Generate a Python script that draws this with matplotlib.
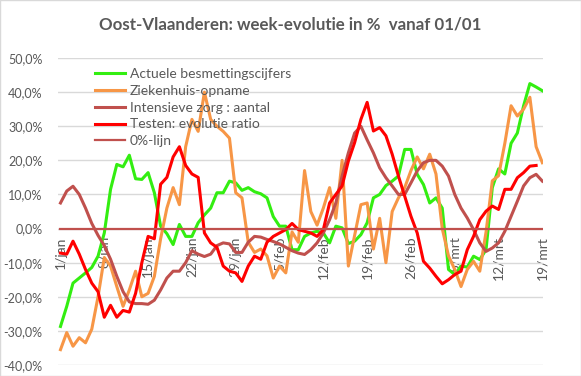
import numpy as np
import matplotlib
matplotlib.use("Agg")
import matplotlib.pyplot as plt
from matplotlib.patches import Rectangle

plt.rcParams['font.family'] = ['Lato', 'DejaVu Sans']

# dagen sinds 1/jan (1/jan .. 19/mrt)
dagen = np.arange(78)
tick_pos = np.arange(0, 78, 7)
tick_labels = ['1/jan', '8/jan', '15/jan', '22/jan', '29/jan', '5/feb',
               '12/feb', '19/feb', '26/feb', '5/mrt', '12/mrt', '19/mrt']

# week-evolutie in %
besmettingen = [-28.7, -22.8, -16, -14.5, -13, -11.4, -8.1, -1.3, 11.5, 18.8,
                18.1, 21.5, 14.6, 14.4, 16.4, 10.5, 0.7, -1.5, -4.7, 1.2,
                -2.3, -2.3, 1.7, 4, 6, 10.5, 10.5, 13.9, 13.4, 11.2,
                12, 10.8, 10.2, 9, 3.5, 0.7, 0.7, -6.2, -6.2, -2.3,
                -1.3, -0.8, -1.3, -4.2, 0.7, 0.2, -4.4, -3.7, -1.8, 1.7,
                9, 10, 12.6, 13.9, 15.4, 23.2, 23.2, 15.9, 12.9, 7.5,
                9, 6, -12, -13.5, -11, -11.3, -8.1, -9.1, -6.2, 12,
                17.5, 16, 25, 28, 36, 42.5, 41.5, 40.4]

ziekenhuis = [-35.5, -30.5, -34.5, -32, -33.5, -29.5, -20, -8.5, -11, -17,
              -22.8, -18, -12.5, -20, -19, -14, -3, 6, 12, 7,
              24, 32, 28.5, 40, 32, 30, 28.5, 26.5, 10.5, 9,
              -4, -7, -6, -8, -14.5, -11, -13, -1, -4, 17,
              5, 1, 6, 12, 3, 20, -11, -2, 7, 7.5,
              -6, 3, -10, 5, 9, 12, 17, 21, 17.5, 21.8,
              16, 0, -8, -12, -17, -12, -9.6, -12.5, -1, 14,
              15.5, 25, 36, 33, 35, 38.5, 24, 19.3]

intensieve_zorg = [7.5, 11, 12.4, 10, 6, 1.5, -2, -5, -9, -14,
                   -18.5, -21.5, -22, -22, -22.2, -21, -18, -14.5, -12.5, -12.5,
                   -10, -6.5, -7.5, -8.2, -7.5, -5, -4.2, -4.5, -7, -7,
                   -4, -2.3, -2.5, -3.2, -3.8, -4.5, -5.5, -6.5, -7.2, -7.6,
                   -6.2, -4.2, -1.3, 2.6, 7.5, 15.4, 22.2, 28, 30, 26,
                   22.2, 17.8, 14.9, 12.5, 10, 10, 13.4, 16.9, 19.3, 20,
                   20, 18.3, 15.4, 10, 6, 3.1, -0.3, -4.2, -6.7, -5.7,
                   -4.2, -0.8, 3.6, 8, 12.5, 14.9, 15.9, 13.9]

testen = [-7.2, -7.5, -3.7, -7.5, -12, -16, -18.5, -26, -22.5, -26,
          -24, -24.5, -19, -10, -2.3, -3, 13, 15, 21, 24,
          18.5, 16, 15, -1.3, -4.2, -5.5, -11, -12.5, -13, -15.5,
          -11, -8.1, -9, -4, -2.3, -1.3, -0.3, 1.5, -0.3, -0.8,
          -1.3, -2.3, -0.3, 7.5, 10, 12.5, 19.8, 25.2, 32, 37,
          28.6, 29.6, 27.2, 21.8, 15.4, 9.5, 3.6, -1.3, -9.6, -11.6,
          -14, -16.2, -15, -13.5, -12.5, -6.2, -2.3, 2.6, 5.1, 6.6,
          5.6, 11.5, 11.5, 14.9, 16.4, 18.3, 18.5, np.nan]

nul_lijn = [0] * 78

grijs = '#595959'

fig = plt.figure(figsize=(5.81, 3.76), dpi=100)
ax = fig.add_axes([0.0998, 0.0293, 0.8348, 0.8164])

ax.plot(dagen, besmettingen, color='#33ee11', lw=2.2, label='Actuele besmettingscijfers')
ax.plot(dagen, ziekenhuis, color='#f79646', lw=2.2, label='Ziekenhuis-opname')
ax.plot(dagen, intensieve_zorg, color='#c0504d', lw=2.2, label='Intensieve zorg : aantal')
ax.plot(dagen, testen, color='#ff0000', lw=2.2, label='Testen: evolutie ratio')
ax.plot(dagen, nul_lijn, color='#c0504d', lw=1.6, label='0%-lijn')

# x-as op de 0%-lijn (eerst positie, dan ticks)
ax.spines['bottom'].set_position(('data', 0))
for s in ax.spines.values():
    s.set_visible(False)

ax.set_xlim(-0.4, 77.1)
ax.set_ylim(-40, 50)
ax.set_yticks(np.arange(-40, 51, 10))
ax.set_yticklabels([f'{v},0%' for v in range(-40, 51, 10)])
ax.grid(axis='y', color='#d9d9d9', lw=1)
ax.set_axisbelow(True)

ax.set_xticks(tick_pos)
ax.set_xticklabels(tick_labels, rotation=90)
ax.tick_params(axis='both', length=0, colors=grijs)
ax.tick_params(axis='y', pad=11, labelsize=9)
ax.tick_params(axis='x', pad=5.5, labelsize=10)

ax.legend(loc='upper left', bbox_to_anchor=(0.151, 0.838),
          bbox_transform=fig.transFigure, frameon=False, fontsize=10,
          handlelength=2.2, handletextpad=0.35, labelspacing=0.35,
          borderpad=0, labelcolor=grijs)

fig.suptitle('Oost-Vlaanderen: week-evolutie in %  vanaf 01/01', x=0.5, y=0.955,
             fontsize=12.2, fontweight='bold', color=grijs)

fig.patches.append(Rectangle((0, 0), 1, 1, transform=fig.transFigure,
                             fill=False, edgecolor='#d9d9d9', lw=1))

fig.savefig('out.png', dpi=100)
